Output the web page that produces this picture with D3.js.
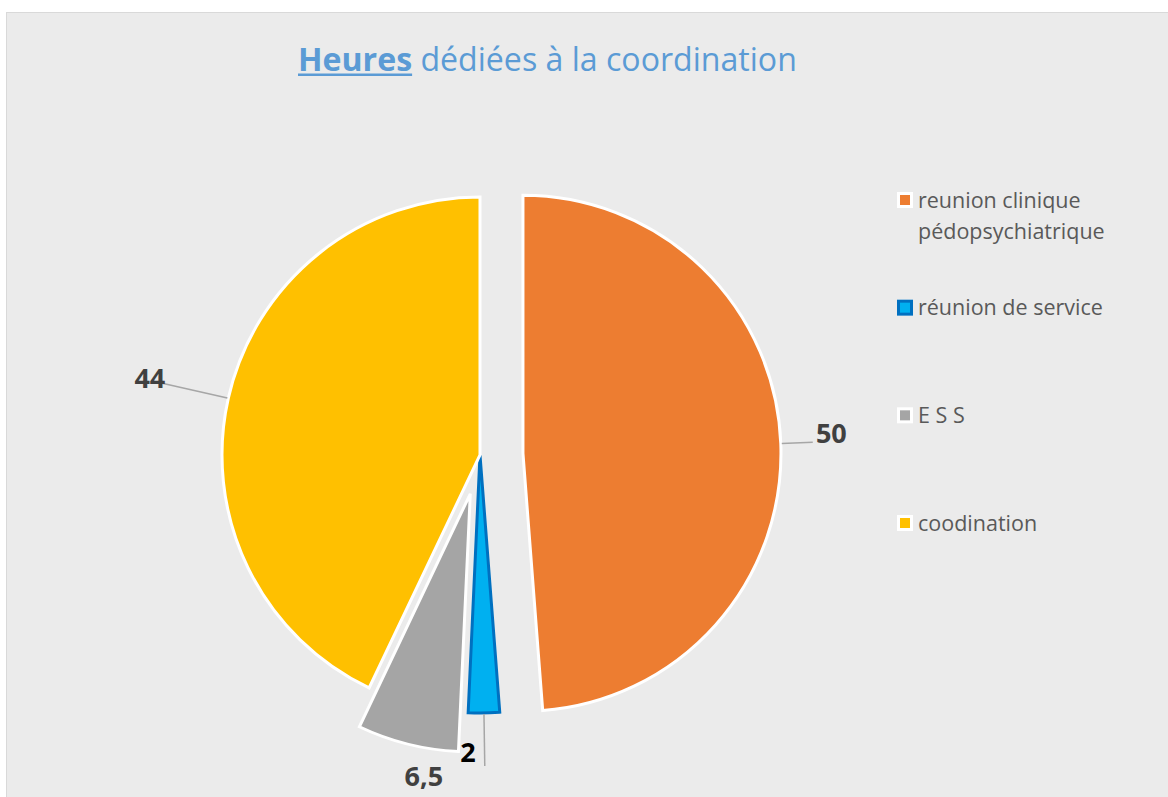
<!DOCTYPE html>
<html lang="fr">
<head>
<meta charset="UTF-8">
<title>Heures dédiées à la coordination</title>
<script src="https://d3js.org/d3.v7.min.js"></script>
<style>
  body { margin: 0; background: #fff; }
  svg text { font-family: "Open Sans", "Liberation Sans", sans-serif; }
</style>
</head>
<body>
<div id="chart"></div>
<script>
// data
var categories = ['reunion clinique pédopsychiatrique', 'réunion de service', 'E S S', 'coodination'];
var hours = [50, 2, 6.5, 44];
var valueLabels = ['50', '2', '6,5', '44'];

// style per slice
var fills = ['#ED7D31', '#00B0F0', '#A5A5A5', '#FFC000'];
var strokes = ['#fff', '#0070C0', '#fff', '#fff'];
var explode = [43, 0, 40, 0];
var labelShift = [-1.5, 3.2, -4.7, 0.4];   // degrees from slice middle
var labelDist = [309, 298, 286, 339];
var leaderTo = [290, 311, 0, 336];
var labelColors = ['#404040', '#000', '#404040', '#404040'];

var W = 1168, H = 797;
var cx = 480, cy = 455, R = 258;

var svg = d3.select('#chart').append('svg')
    .attr('width', W)
    .attr('height', H);

svg.append('rect')
    .attr('x', 6.5).attr('y', 12.5)
    .attr('width', W).attr('height', H)
    .attr('fill', '#ebebeb')
    .attr('stroke', '#d9d9d9');

// title
var title = svg.append('text')
    .attr('x', 298).attr('y', 71)
    .attr('fill', '#5B9BD5')
    .style('font-size', '33px');
title.append('tspan').attr('font-weight', 'bold').text('Heures');
title.append('tspan').text(' dédiées à la coordination');
var tw = title.node().getComputedTextLength();
title.style('font-size', (33 * 499 / tw) + 'px');
var hw = title.select('tspan').node().getComputedTextLength();
svg.append('rect')
    .attr('x', 298).attr('y', 73.5)
    .attr('width', hw).attr('height', 2.5)
    .attr('fill', '#5B9BD5');

// pie
var pie = d3.pie().sort(null).value(function (d) { return d; });
var arcs = pie(hours);
var arc = d3.arc().innerRadius(0).outerRadius(R);

function polar(a, r) {
    return [Math.sin(a) * r, -Math.cos(a) * r];
}

var g = svg.append('g').attr('transform', 'translate(' + cx + ',' + cy + ')');

var slices = g.selectAll('g.slice')
    .data(arcs)
    .enter()
    .append('g')
    .attr('class', 'slice')
    .attr('transform', function (d, i) {
        var mid = (d.startAngle + d.endAngle) / 2;
        var p = polar(mid, explode[i]);
        return 'translate(' + p[0] + ',' + p[1] + ')';
    });

slices.append('path')
    .attr('d', arc)
    .attr('fill', function (d, i) { return fills[i]; })
    .attr('stroke', function (d, i) { return strokes[i]; })
    .attr('stroke-width', 3)
    .attr('stroke-linejoin', 'miter');

// leader lines
slices.filter(function (d, i) { return leaderTo[i] > 0; })
    .append('line')
    .each(function (d) {
        var i = arcs.indexOf(d);
        var mid = (d.startAngle + d.endAngle) / 2;
        var a = polar(mid, R + 1);
        var b = polar(mid, leaderTo[i]);
        d3.select(this)
            .attr('x1', a[0]).attr('y1', a[1])
            .attr('x2', b[0]).attr('y2', b[1]);
    })
    .attr('stroke', '#a6a6a6')
    .attr('stroke-width', 1.5);

// value labels
slices.append('text')
    .attr('transform', function (d, i) {
        var mid = (d.startAngle + d.endAngle) / 2 + labelShift[i] * Math.PI / 180;
        var p = polar(mid, labelDist[i]);
        return 'translate(' + p[0] + ',' + p[1] + ')';
    })
    .attr('text-anchor', 'middle')
    .attr('dy', '0.36em')
    .attr('font-weight', 'bold')
    .style('font-size', '27px')
    .attr('fill', function (d, i) { return labelColors[i]; })
    .text(function (d, i) { return valueLabels[i]; });

// legend
var legendY = d3.scalePoint()
    .domain(categories)
    .range([200, 523]);

var leg = svg.append('g').selectAll('g')
    .data(categories)
    .enter()
    .append('g')
    .attr('transform', function (d) {
        return 'translate(897,' + legendY(d) + ')';
    });

leg.append('rect')
    .attr('x', 0).attr('y', -8)
    .attr('width', 16).attr('height', 16)
    .attr('fill', '#fff');
leg.append('rect')
    .attr('x', function (d, i) { return i === 1 ? 1.5 : 3; })
    .attr('y', function (d, i) { return i === 1 ? -6.5 : -5; })
    .attr('width', function (d, i) { return i === 1 ? 13 : 10; })
    .attr('height', function (d, i) { return i === 1 ? 13 : 10; })
    .attr('fill', function (d, i) { return fills[i]; })
    .attr('stroke', function (d, i) { return i === 1 ? strokes[i] : 'none'; })
    .attr('stroke-width', 3);

leg.append('text')
    .attr('x', 21)
    .attr('dy', '0.36em')
    .attr('fill', '#595959')
    .style('font-size', '21.5px')
    .each(function (d) {
        var t = d3.select(this);
        if (d === categories[0]) {
            t.append('tspan').attr('x', 21).text('reunion clinique');
            t.append('tspan').attr('x', 21).attr('dy', 31).text('pédopsychiatrique');
        } else {
            t.text(d);
        }
    });
</script>
</body>
</html>
